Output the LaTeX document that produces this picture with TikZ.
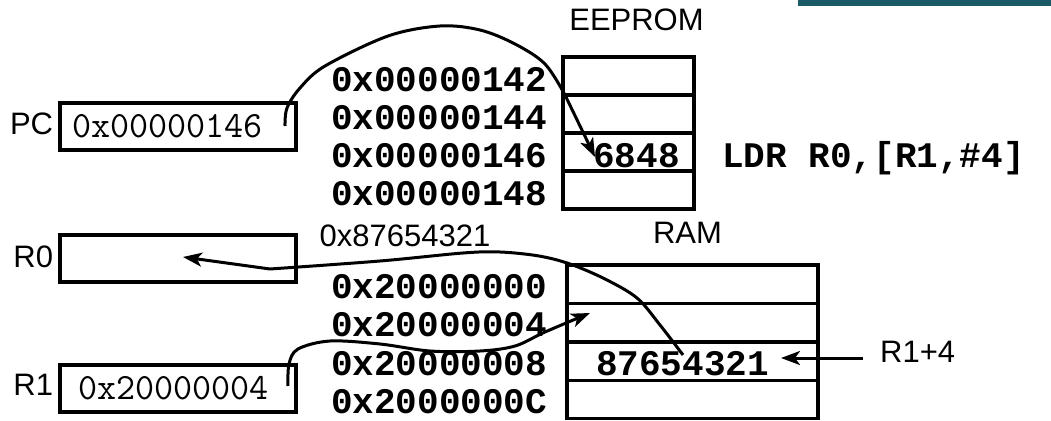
\documentclass[tikz,border=0pt]{standalone}
\usepackage{fontspec}
\setmainfont{Liberation Sans}
\newfontfamily\codefont{Liberation Mono}
\usetikzlibrary{arrows.meta,positioning}
\definecolor{barteal}{HTML}{1B5B66}

\begin{document}
\begin{tikzpicture}[x=1pt,y=-1pt,
	lbl/.style={font=\fontsize{31}{36}\selectfont, inner sep=0pt},
	code/.style={font=\codefont\bfseries\fontsize{36}{40}\selectfont, inner sep=0pt},
	regbox/.style={draw, line width=3.4pt, minimum height=47pt, inner ysep=0pt,
		align=left, font=\ttfamily\fontsize{37}{40}\selectfont},
	romcell/.style={draw, line width=3.4pt, minimum width=131pt, minimum height=38pt, inner sep=0pt},
	ramcell/.style={draw, line width=3.4pt, minimum width=251pt, minimum height=38.4pt, inner sep=0pt},
	flow/.style={line width=3pt, line join=round, -{Stealth[length=19pt,width=14pt,inset=5pt]}}]

	\useasboundingbox (0,0) rectangle (1051,420);
	\fill[barteal] (798,0) rectangle (1051,6);

	% registers
	\node[regbox, text width=212pt, inner xsep=12pt] (pc) at (178,126.5) {0x00000146};
	\node[regbox, minimum width=236pt] (r0) at (178,258.5) {};
	\node[regbox, text width=200pt, inner xsep=18pt] (r1) at (178,388.5) {0x20000004};
	\node[lbl, left=5pt of pc, yshift=3pt] (pclbl) {PC};
	\node[lbl, left=5pt of r0, yshift=2pt] (r0lbl) {R0};
	\node[lbl, left=5pt of r1, yshift=4pt] (r1lbl) {R1};

	% EEPROM
	\foreach \i/\a in {0/142,1/144,2/146,3/148} {
		\node[romcell] (e\i) at (628.5,76+38*\i) {};
		\node[code, left=14pt of e\i, yshift=-4pt] (ea\i) {0x00000\a};
	}
	\node[lbl, anchor=south] (eepromlbl) at ([xshift=8pt,yshift=24pt]e0.north) {EEPROM};
	\node[code, xshift=8pt, yshift=-4pt] (romval) at (e2) {6848};
	\node[code, anchor=base west] (instr) at (722,167) {LDR R0,[R1,\#4]};

	% RAM
	\foreach \i/\a in {0/0,1/4,2/8,3/C} {
		\node[ramcell] (m\i) at (692.5,284.2+38.4*\i) {};
		\node[code, left=18pt of m\i, yshift=-2.5pt] (ma\i) {0x2000000\a};
	}
	\node[lbl, anchor=south] (ramlbl) at ([xshift=-5pt,yshift=20pt]m0.north) {RAM};
	\node[code, xshift=-10pt, yshift=-3pt] (ramval) at (m2) {87654321};
	\node[lbl] (loadval) at (405,236) {0x87654321};
	\node[lbl, anchor=west] (offslbl) at (880,352) {R1+4};

	% arrows
	\coordinate (pcsrc) at (285,126);
	\coordinate (pctip) at (595,157);
	\draw[flow] plot[smooth, tension=0.55] coordinates {(pcsrc) (287,108) (300,88) (325,66)
		(388,36) (440,26) (480,30) (515,44) (545,64) (565,95)} -- (pctip);

	\coordinate (r0src) at (683,355);
	\coordinate (r0tip) at (183,257);
	\draw[flow] plot[smooth, tension=0.55] coordinates {(r0src) (660,325) (637,298) (605,279)
		(570,264) (539,256) (500,252) (463,253) (380,261) (270,269)} -- (r0tip);

	\coordinate (r1src) at (288,386);
	\coordinate (r1tip) at (590,313);
	\draw[flow] plot[smooth, tension=0.55] coordinates {(r1src) (289,364) (298,349) (330,341)
		(380,344) (430,351) (480,351) (515,346) (545,332) (r1tip)};

	\coordinate (offsrc) at (863,358);
	\coordinate (offtip) at (781,358);
	\draw[flow] (offsrc) -- (offtip);
\end{tikzpicture}
\end{document}
